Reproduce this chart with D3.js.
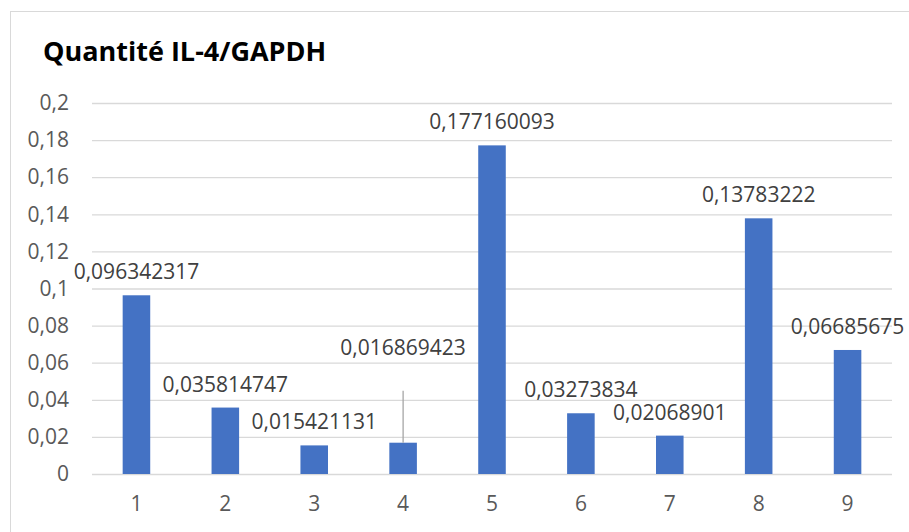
<!DOCTYPE html>
<html>
<head>
<meta charset="utf-8">
<script src="https://cdn.jsdelivr.net/npm/d3@7"></script>
<style>
  html, body { margin: 0; padding: 0; background: #fff; }
  svg { display: block; font-family: "Open Sans", "Noto Sans", sans-serif; }
</style>
</head>
<body>
<svg id="chart" width="909" height="532"></svg>
<script>
// Chart data
const categories = ["1", "2", "3", "4", "5", "6", "7", "8", "9"];
const values = [0.096342317, 0.035814747, 0.015421131, 0.016869423, 0.177160093,
                0.03273834, 0.02068901, 0.13783222, 0.06685675];
const valueLabels = ["0,096342317", "0,035814747", "0,015421131", "0,016869423", "0,177160093",
                     "0,03273834", "0,02068901", "0,13783222", "0,06685675"];
const yTicks = [0, 0.02, 0.04, 0.06, 0.08, 0.1, 0.12, 0.14, 0.16, 0.18, 0.2];
const yTickLabels = ["0", "0,02", "0,04", "0,06", "0,08", "0,1", "0,12", "0,14", "0,16", "0,18", "0,2"];
const title = "Quantité IL-4/GAPDH";

const svg = d3.select("#chart");
const W = 909, H = 532;
const plot = { left: 92, right: 892, top: 103, bottom: 474 };
const labelFont = 21;

// Outer chart frame
svg.append("rect")
  .attr("x", 10.5).attr("y", 11.5)
  .attr("width", W + 20).attr("height", H + 20)
  .attr("fill", "#fff").attr("stroke", "#d9d9d9").attr("stroke-width", 1);

const x = d3.scaleBand().domain(categories)
  .range([plot.left, plot.right]).paddingInner(0.69).paddingOuter(0.345);
const y = d3.scaleLinear().domain([0, 0.2]).range([plot.bottom, plot.top]);

// Title
svg.append("text")
  .attr("x", 43).attr("y", 61)
  .attr("font-size", 27).attr("font-weight", 700).attr("fill", "#000")
  .text(title);

// Horizontal gridlines + y tick labels
const yAxis = d3.axisLeft(y).tickValues(yTicks)
  .tickSize(-(plot.right - plot.left)).tickPadding(23)
  .tickFormat((d, i) => yTickLabels[i]);
const gy = svg.append("g").attr("transform", `translate(${plot.left},0)`).call(yAxis);
gy.select(".domain").remove();
gy.selectAll(".tick line").attr("stroke", "#d9d9d9").attr("stroke-width", 1.3);
gy.selectAll(".tick text").attr("fill", "#595959").attr("font-size", labelFont)
  .attr("font-family", "'Open Sans', sans-serif");

// X axis labels
const xAxis = d3.axisBottom(x).tickSize(0).tickPadding(22);
const gx = svg.append("g").attr("transform", `translate(0,${plot.bottom})`).call(xAxis);
gx.select(".domain").remove();
gx.selectAll(".tick text").attr("fill", "#595959").attr("font-size", labelFont)
  .attr("font-family", "'Open Sans', sans-serif");

// Bars
svg.append("g").selectAll("rect").data(values).join("rect")
  .attr("x", (d, i) => x(categories[i]))
  .attr("y", d => y(d))
  .attr("width", x.bandwidth())
  .attr("height", d => y(0) - y(d))
  .attr("fill", "#4472c4");

// Data labels; the label of bar 4 is lifted and tied to its bar with a leader line
const labelLift = [0, 0, 0, 72, 0, 0, 0, 0, 0];
const labels = svg.append("g");
values.forEach((v, i) => {
  const cx = x(categories[i]) + x.bandwidth() / 2;
  const cy = y(v) - 24 - labelLift[i];
  if (labelLift[i] > 0) {
    labels.append("line")
      .attr("x1", cx).attr("x2", cx)
      .attr("y1", cy + 44).attr("y2", y(v))
      .attr("stroke", "#a6a6a6").attr("stroke-width", 1.3);
  }
  labels.append("text")
    .attr("x", cx).attr("y", cy)
    .attr("text-anchor", "middle").attr("dominant-baseline", "central")
    .attr("font-size", labelFont).attr("fill", "#404040")
    .text(valueLabels[i]);
});
</script>
</body>
</html>
